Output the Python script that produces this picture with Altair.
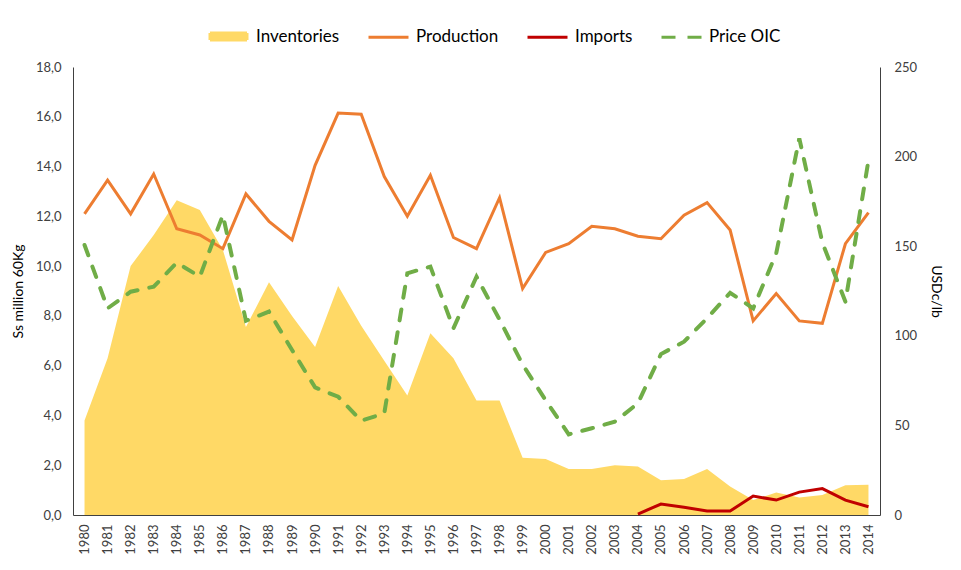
import altair as alt
import pandas as pd

years = [str(y) for y in range(1980, 2015)]
inventories = [3.8, 6.3, 10.0, 11.25, 12.65, 12.25, 10.65, 7.55, 9.35, 8.0,
               6.75, 9.2, 7.6, 6.2, 4.8, 7.3, 6.3, 4.6, 4.6, 2.3,
               2.25, 1.85, 1.85, 2.0, 1.95, 1.4, 1.45, 1.85, 1.15, 0.6,
               0.9, 0.7, 0.8, 1.2, 1.22]
production = [12.1, 13.45, 12.1, 13.7, 11.5, 11.25, 10.7, 12.9, 11.8, 11.05,
              14.05, 16.15, 16.1, 13.6, 12.0, 13.65, 11.15, 10.7, 12.75, 9.1,
              10.55, 10.9, 11.6, 11.5, 11.2, 11.1, 12.05, 12.55, 11.45, 7.8,
              8.9, 7.8, 7.7, 10.9, 12.15]
import_years = [str(y) for y in range(2004, 2015)]
imports = [0.04, 0.44, 0.31, 0.16, 0.16, 0.76, 0.6, 0.92, 1.06, 0.6, 0.33]
price = [150.7, 115.3, 124.6, 127.4, 140.8, 133.0, 167.4, 108.4, 113.5, 92.1,
         71.2, 66.0, 52.6, 56.7, 134.9, 138.6, 104.2, 133.0, 109.0, 84.0,
         64.0, 45.0, 48.4, 52.1, 62.3, 89.8, 96.7, 109.8, 124.0, 115.3,
         146.0, 210.2, 152.0, 119.0, 198.0]

series_names = ["Inventories", "Production", "Imports", "Price OIC"]
series_colors = ["#FFD966", "#ED7D31", "#C00000", "#70AD47"]

inv_df = pd.DataFrame({"year": years, "value": inventories})
lines_df = pd.DataFrame({
    "year": years + import_years,
    "value": production + imports,
    "series": ["Production"] * len(production) + ["Imports"] * len(imports),
})
price_df = pd.DataFrame({"year": years, "value": price, "series": ["Price OIC"] * len(price)})

FONT = "Lato"
TXT = "#404040"

x_enc = alt.X(
    "year:O",
    scale=alt.Scale(padding=0.5),
    axis=alt.Axis(title=None, labelAngle=-90, labelPadding=9, labelFontSize=13,
                  labelAlign="right", labelBaseline="middle"),
)

color_scale = alt.Scale(domain=series_names, range=series_colors)
rect_path = "M-0.925,-0.175H0.925V0.175H-0.925Z"
legend = alt.Legend(
    title=None, orient="none", legendX=134, legendY=-52, direction="horizontal",
    columns=4, symbolSize=1600, symbolStrokeWidth=3,
    symbolType={"expr": "datum.value == 'Inventories' ? '" + rect_path + "' : 'stroke'"},
    symbolFillColor={"expr": "datum.value == 'Inventories' ? '#FFD966' : 'transparent'"},
    symbolDash={"expr": "datum.value == 'Price OIC' ? [14, 12] : [1, 0]"},
    labelFont=FONT, labelFontSize=17, labelColor="#000000", labelOffset=6,
    columnPadding=22,
)

left_axis = alt.Axis(title="Ss million 60Kg", values=list(range(0, 19, 2)),
                     labelExpr="replace(format(datum.value, '.1f'), '.', ',')",
                     labelPadding=12, titlePadding=10)
y_left = alt.Y("value:Q", scale=alt.Scale(domain=[0, 18], nice=False), axis=left_axis)

area = alt.Chart(inv_df).mark_area(color="#FFD966", opacity=1).encode(x=x_enc, y=y_left)
lines = alt.Chart(lines_df).mark_line(strokeWidth=3).encode(
    x=x_enc,
    y=alt.Y("value:Q", scale=alt.Scale(domain=[0, 18], nice=False), axis=left_axis),
    color=alt.Color("series:N", scale=color_scale, legend=legend),
)

right_axis = alt.Axis(title="USDc/lb", orient="right", values=list(range(0, 251, 50)),
                      labelPadding=14, titlePadding=12)
price_line = alt.Chart(price_df).mark_line(strokeWidth=4, strokeDash=[11, 12], strokeCap="round").encode(
    x=x_enc,
    y=alt.Y("value:Q", scale=alt.Scale(domain=[0, 250], nice=False), axis=right_axis),
    color=alt.Color("series:N", scale=color_scale, legend=legend),
)

chart = alt.layer(alt.layer(area, lines), price_line).resolve_scale(y="independent").properties(
    width=807, height=448,
    padding={"left": 65, "top": 59, "right": 70, "bottom": 45},
    autosize=alt.AutoSizeParams(type="none"),
).configure_view(stroke=None).configure_axis(
    grid=False, ticks=False, domainColor=TXT, domainWidth=1,
    labelFont=FONT, labelFontSize=13, labelColor=TXT,
    titleFont=FONT, titleFontSize=14, titleColor="#000000", titleFontWeight="normal",
)

chart.save("out.html", embed_options={"renderer": "svg", "actions": False})
